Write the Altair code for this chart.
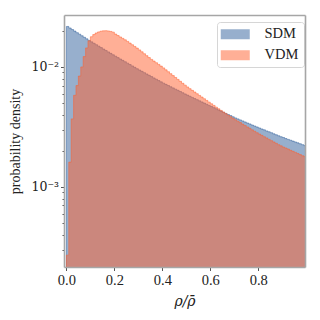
import altair as alt
import pandas as pd

bin_width = 0.01
categories = ["SDM", "VDM"]
colors = ["#2f5f9b", "#ff5f2d"]

sdm_density = [
    21.75e-3, 21.12e-3, 20.50e-3, 19.90e-3, 19.31e-3, 18.75e-3, 18.20e-3, 17.67e-3, 17.15e-3, 16.65e-3,
    16.19e-3, 15.75e-3, 15.32e-3, 14.90e-3, 14.50e-3, 14.10e-3, 13.72e-3, 13.35e-3, 12.98e-3, 12.63e-3,
    12.29e-3, 11.96e-3, 11.65e-3, 11.35e-3, 11.05e-3, 10.76e-3, 10.48e-3, 10.20e-3, 9.93e-3, 9.67e-3,
    9.43e-3, 9.19e-3, 8.96e-3, 8.74e-3, 8.52e-3, 8.31e-3, 8.10e-3, 7.90e-3, 7.70e-3, 7.51e-3,
    7.33e-3, 7.16e-3, 7.00e-3, 6.84e-3, 6.69e-3, 6.53e-3, 6.39e-3, 6.24e-3, 6.10e-3, 5.96e-3,
    5.83e-3, 5.70e-3, 5.57e-3, 5.45e-3, 5.34e-3, 5.22e-3, 5.11e-3, 5.00e-3, 4.89e-3, 4.78e-3,
    4.68e-3, 4.58e-3, 4.48e-3, 4.38e-3, 4.29e-3, 4.19e-3, 4.10e-3, 4.01e-3, 3.93e-3, 3.84e-3,
    3.76e-3, 3.69e-3, 3.62e-3, 3.55e-3, 3.48e-3, 3.41e-3, 3.35e-3, 3.28e-3, 3.22e-3, 3.16e-3,
    3.10e-3, 3.04e-3, 2.99e-3, 2.93e-3, 2.88e-3, 2.83e-3, 2.77e-3, 2.72e-3, 2.67e-3, 2.62e-3,
    2.58e-3, 2.53e-3, 2.49e-3, 2.45e-3, 2.41e-3, 2.37e-3, 2.33e-3, 2.29e-3, 2.25e-3, 2.21e-3,
]

vdm_density = [
    0.27e-3, 1.61e-3, 3.69e-3, 5.80e-3, 7.00e-3, 8.40e-3, 10.00e-3, 12.20e-3, 14.40e-3, 16.50e-3,
    17.86e-3, 18.62e-3, 19.19e-3, 19.59e-3, 19.86e-3, 20.00e-3, 20.04e-3, 19.95e-3, 19.77e-3, 19.50e-3,
    18.79e-3, 18.28e-3, 17.78e-3, 17.30e-3, 16.83e-3, 16.33e-3, 15.81e-3, 15.31e-3, 14.83e-3, 14.36e-3,
    13.87e-3, 13.37e-3, 12.88e-3, 12.42e-3, 11.97e-3, 11.56e-3, 11.19e-3, 10.84e-3, 10.50e-3, 10.16e-3,
    9.82e-3, 9.46e-3, 9.12e-3, 8.79e-3, 8.47e-3, 8.17e-3, 7.87e-3, 7.59e-3, 7.31e-3, 7.05e-3,
    6.81e-3, 6.59e-3, 6.38e-3, 6.18e-3, 5.98e-3, 5.79e-3, 5.61e-3, 5.43e-3, 5.26e-3, 5.09e-3,
    4.93e-3, 4.78e-3, 4.62e-3, 4.48e-3, 4.34e-3, 4.21e-3, 4.08e-3, 3.96e-3, 3.85e-3, 3.73e-3,
    3.63e-3, 3.53e-3, 3.44e-3, 3.34e-3, 3.25e-3, 3.16e-3, 3.08e-3, 2.99e-3, 2.91e-3, 2.83e-3,
    2.76e-3, 2.69e-3, 2.62e-3, 2.56e-3, 2.49e-3, 2.43e-3, 2.37e-3, 2.31e-3, 2.25e-3, 2.20e-3,
    2.15e-3, 2.11e-3, 2.07e-3, 2.02e-3, 1.98e-3, 1.94e-3, 1.90e-3, 1.86e-3, 1.82e-3, 1.79e-3,
]

x_ticks = [0.0, 0.2, 0.4, 0.6, 0.8]
y_ticks = [3e-4, 4e-4, 5e-4, 6e-4, 7e-4, 8e-4, 9e-4, 1e-3,
           2e-3, 3e-3, 4e-3, 5e-3, 6e-3, 7e-3, 8e-3, 9e-3, 1e-2, 2e-2]
x_domain = [-0.01, 0.995]
y_domain = [2.15e-4, 0.0271]


def step_frame(name, values):
    edges = [i * bin_width for i in range(len(values) + 1)]
    vals = list(values) + [values[-1]]
    return pd.DataFrame({"x": edges, "density": vals, "base": 1e-6, "series": name})


df_sdm = step_frame("SDM", sdm_density)
df_vdm = step_frame("VDM", vdm_density)

FONT = "Liberation Serif"
xscale = alt.Scale(domain=x_domain, nice=False, zero=False)
yscale = alt.Scale(type="log", domain=y_domain, nice=False)
cscale = alt.Scale(domain=categories, range=colors)

major_test = "datum.value == 0.01 || datum.value == 0.001"

axis_common = dict(
    domainColor="#a6a6a6", domainWidth=1.6, tickColor="#555555", tickWidth=1,
    labelColor="#222222",
    titleFontSize=14, titleColor="#222222", titleFontWeight="normal",
    grid=False, zindex=1,
)

x_bottom = alt.Axis(values=x_ticks, format=".1f", tickSize=3.5, labelPadding=3,
                    labelFont=FONT, labelFontSize=14.5,
                    title="ρ/ρ\u0304", titleFont="DejaVu Serif", titleFontStyle="italic",
                    titlePadding=7, **axis_common)
y_left = alt.Axis(values=y_ticks,
                  labelExpr="datum.value == 0.01 ? '10⁻²' : (datum.value == 0.001 ? '10⁻³' : '')",
                  labelFont="DejaVu Serif", labelFontSize=12.5,
                  tickSize={"condition": {"test": major_test, "value": 3.5}, "value": 2},
                  labelPadding=2, title="probability density", titleFont=FONT,
                  titlePadding=8, **axis_common)
x_top = alt.Axis(orient="top", labels=False, ticks=False, title=None, **axis_common)
y_right = alt.Axis(orient="right", labels=False, ticks=False, title=None, **axis_common)

legend = alt.Legend(
    orient="none", legendX=153, legendY=7, title=None,
    symbolType="M-2.9,-1H2.9V1H-2.9Z", symbolSize=100, symbolOffset=6,
    symbolOpacity=0.5, symbolStrokeWidth=0,
    labelFont=FONT, labelFontSize=14.5, labelColor="#222222",
    labelOffset=22, fillColor="white", strokeColor="#d6d6d6", cornerRadius=3,
    padding=5, rowPadding=6,
)

sdm = alt.Chart(df_sdm).mark_area(
    interpolate="step-after", fillOpacity=0.5, strokeOpacity=0.5, strokeWidth=1, clip=True
).encode(
    x=alt.X("x:Q", scale=xscale, axis=x_bottom),
    y=alt.Y("density:Q", scale=yscale, axis=y_left),
    y2="base:Q",
    color=alt.Color("series:N", scale=cscale, legend=legend),
    stroke=alt.Stroke("series:N", scale=cscale, legend=None),
)

vdm = alt.Chart(df_vdm).mark_area(
    interpolate="step-after", fillOpacity=0.5, strokeOpacity=0.5, strokeWidth=1, clip=True
).encode(
    x=alt.X("x:Q", scale=xscale, axis=x_top),
    y=alt.Y("density:Q", scale=yscale, axis=y_right),
    y2="base:Q",
    color=alt.Color("series:N", scale=cscale, legend=legend),
    stroke=alt.Stroke("series:N", scale=cscale, legend=None),
)

chart = alt.layer(sdm, vdm).resolve_axis(x="independent", y="independent").properties(
    width=241, height=252, autosize="none",
    padding={"left": 56, "top": 7, "right": 7, "bottom": 45},
).configure_view(stroke=None)

chart.save("out.html", embed_options={"renderer": "svg", "actions": False})
